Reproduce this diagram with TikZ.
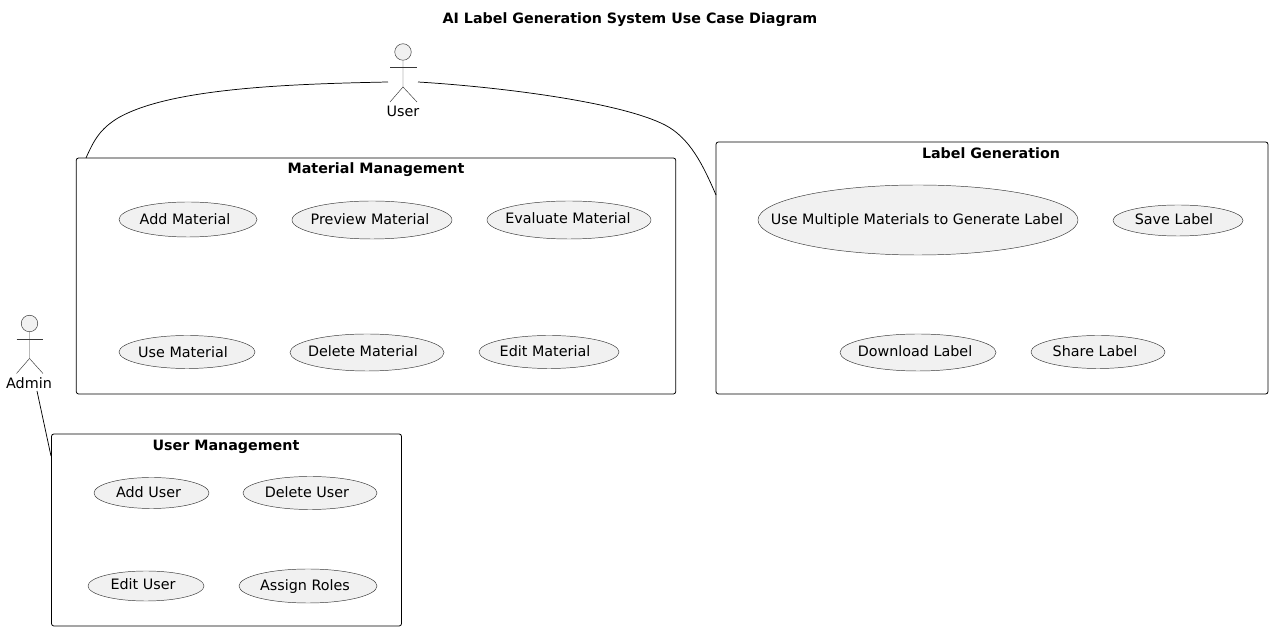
\documentclass[tikz,border=0pt]{standalone}
\usepackage{fontspec}
\setmainfont{DejaVu Sans}
\usetikzlibrary{shapes.geometric,arrows.meta,positioning}
\definecolor{casefill}{HTML}{F1F1F1}
\definecolor{caseline}{HTML}{383838}
\tikzset{
  usecase/.style 2 args={ellipse,draw=caseline,fill=casefill,line width=0.35pt,inner sep=0pt,
    minimum width=#1*0.75pt,minimum height=#2*0.75pt},
  casetext/.style={inner sep=0pt,text height=9pt,text depth=0pt,font=\fontsize{10.75}{12}\selectfont},
  boxtitle/.style={inner sep=0pt,text height=9pt,text depth=0pt,font=\fontsize{10.7}{12}\selectfont\bfseries},
  groupbox/.style 2 args={draw=black,line width=0.6pt,rounded corners=1.8pt,inner sep=0pt,
    minimum width=#1*0.75pt,minimum height=#2*0.75pt},
  actorline/.style={draw=caseline,line width=0.35pt},
  link/.style={draw=black,line width=0.55pt},
}
\begin{document}
\begin{tikzpicture}[x=0.75pt,y=-0.75pt]
  \useasboundingbox (0,0) rectangle (1272,630);
  \node[boxtitle] (diagramtitle) at (630,18) {AI Label Generation System Use Case Diagram};
  % boxes
  \node[groupbox={599.5}{236}] (material) at (376,276) {};
  \node[boxtitle] (materialtitle) at (376,168) {Material Management};
  \node[groupbox={552}{252}] (labelgen) at (992,268) {};
  \node[boxtitle] (labelgentitle) at (991,153) {Label Generation};
  \node[groupbox={350}{192}] (usermgmt) at (226.5,530) {};
  \node[boxtitle] (usermgmttitle) at (226,445) {User Management};
  % material cases
  \node[usecase={138}{35}] (addmat) at (188,219.5) {};
  \node[casetext] (addmattext) at (185,219) {Add Material};
  \node[usecase={160}{38}] (prevmat) at (372,220) {};
  \node[casetext] (prevmattext) at (370,219) {Preview Material};
  \node[usecase={164}{38}] (evalmat) at (569,220) {};
  \node[casetext] (evalmattext) at (568,218) {Evaluate Material};
  \node[usecase={136}{33}] (usemat) at (187,352) {};
  \node[casetext] (usemattext) at (183,352) {Use Material};
  \node[usecase={154}{37}] (delmat) at (367,352.5) {};
  \node[casetext] (delmattext) at (363,351) {Delete Material};
  \node[usecase={140}{33}] (editmat) at (549,352) {};
  \node[casetext] (editmattext) at (545,351) {Edit Material};
  % label cases
  \node[usecase={320}{70}] (genlabel) at (918,220) {};
  \node[casetext] (genlabeltext) at (917,219) {Use Multiple Materials to Generate Label};
  \node[usecase={130}{31}] (savelabel) at (1178,220.5) {};
  \node[casetext] (savelabeltext) at (1174,219) {Save Label};
  \node[usecase={156}{37}] (downlabel) at (918,352.5) {};
  \node[casetext] (downlabeltext) at (915,351) {Download Label};
  \node[usecase={134}{33}] (sharelabel) at (1098,352) {};
  \node[casetext] (sharelabeltext) at (1095,351) {Share Label};
  % user cases
  \node[usecase={115}{31}] (adduser) at (151.5,493) {};
  \node[casetext] (addusertext) at (148.5,492) {Add User};
  \node[usecase={134}{33}] (deluser) at (310,493) {};
  \node[casetext] (delusertext) at (307,492) {Delete User};
  \node[usecase={116}{30}] (edituser) at (146,586) {};
  \node[casetext] (editusertext) at (143,584) {Edit User};
  \node[usecase={138}{34}] (assignroles) at (308,586) {};
  \node[casetext] (assignrolestext) at (305,585) {Assign Roles};
  % actors
  \node[circle,actorline,fill=casefill,inner sep=0pt,minimum size=12.4pt] (userhead) at (403,52) {};
  \draw[actorline] (userhead.south) -- (403,87) -- (390,102);
  \draw[actorline] (403,87) -- (417,102);
  \draw[actorline] (390,67.5) -- (417,67.5);
  \node[casetext] (username) at (403,111) {User};
  \node[circle,actorline,fill=casefill,inner sep=0pt,minimum size=12.4pt] (adminhead) at (29.5,323.5) {};
  \draw[actorline] (adminhead.south) -- (29.5,358.5) -- (16.5,373.5);
  \draw[actorline] (29.5,358.5) -- (43,373.5);
  \draw[actorline] (16.5,339) -- (43,339);
  \node[casetext] (adminname) at (29,383) {Admin};
  % links
  \coordinate (userleft) at (388,82);
  \coordinate (userright) at (418,82);
  \coordinate (adminfoot) at (37,391);
  \coordinate (materialtop) at (86,158);
  \coordinate (labelside) at (716,195);
  \coordinate (usermgmtside) at (51,456);
  \draw[link] (userleft) .. controls (290,84) and (170,88) .. (118,118) .. controls (100,129) and (94,140) .. (materialtop);
  \draw[link] (userright) .. controls (500,87) and (620,102) .. (665,125) .. controls (690,138) and (703,165) .. (labelside);
  \draw[link] (adminfoot) -- (usermgmtside);
\end{tikzpicture}
\end{document}
